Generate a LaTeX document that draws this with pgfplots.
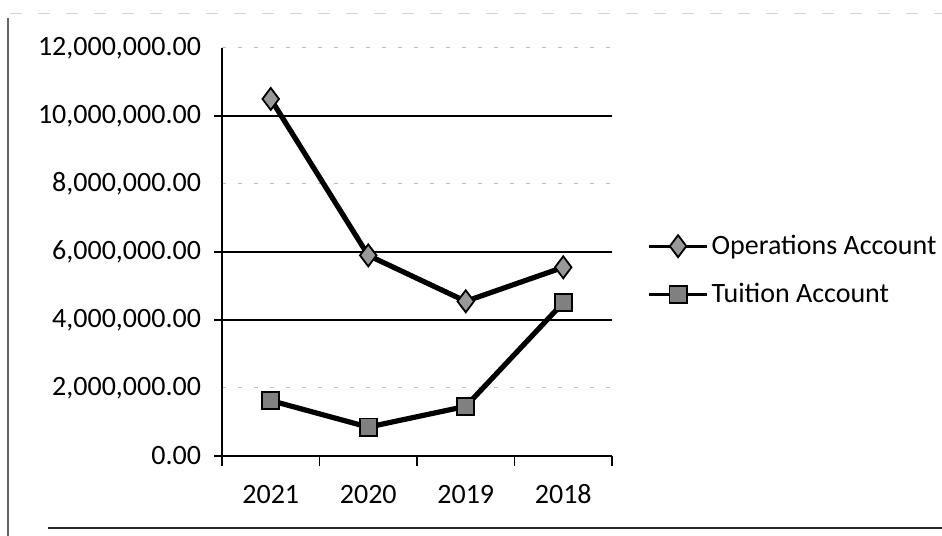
\documentclass[border=0pt]{standalone}
\usepackage{pgfplots}
\pgfplotsset{compat=1.18}
\usepackage{fontspec}
\setmainfont{Carlito}
\usetikzlibrary{plotmarks}

\newcommand{\chartfont}{\fontsize{14bp}{16bp}\selectfont}

\begin{document}
\begin{tikzpicture}
\useasboundingbox (0,0) rectangle (471bp,268bp);
% scanned page frame
\draw[black!60, line width=0.6bp] (4bp,0) -- (4bp,259bp);
\draw[black!18, line width=0.5bp, dash pattern=on 6bp off 8bp] (5bp,261bp) -- (471bp,261bp);
\draw[black!85, line width=0.9bp] (24bp,4bp) -- (471bp,4bp);

\begin{axis}[
  at={(111bp,40bp)}, anchor=south west,
  scale only axis, width=195bp, height=204bp,
  xmin=-0.5, xmax=3.5, ymin=0, ymax=12000000,
  axis x line=bottom, axis y line=left,
  axis line style={-, black, line width=1bp},
  xtick={0,1,2,3}, xticklabels={2021,2020,2019,2018},
  ytick={0,2000000,4000000,6000000,8000000,10000000,12000000},
  scaled y ticks=false,
  major tick length=0pt,
  ymajorgrids, major grid style={black!25, line width=0.5bp, dash pattern=on 2bp off 6bp},
  extra x ticks={-0.5,0.5,1.5,2.5,3.5}, extra x tick labels={},
  extra x tick style={major tick length=5bp, tick align=outside, tick style={black, line width=0.8bp}},
  extra y ticks={0,4000000,6000000,10000000}, extra y tick labels={},
  extra y tick style={major tick length=4bp, tick align=outside, ymajorgrids,
    major grid style={solid, black, line width=1bp}, tick style={solid, black, line width=1bp}},
  tick label style={font=\chartfont},
  yticklabel style={xshift=-7bp},
  xticklabel style={anchor=north, text height=10bp, text depth=0pt, yshift=-10bp},
  /pgf/number format/.cd, fixed, fixed zerofill, precision=2, 1000 sep={,}, assume math mode=true,
  /pgfplots/.cd,
  legend style={at={(1.09,0.455)}, anchor=west, draw=none, fill=none,
    font=\chartfont, row sep=10bp, inner sep=0pt, nodes={inner sep=1.5bp}},
  legend cell align=left,
  legend image code/.code={
    \draw[mark repeat=2, mark phase=2, #1, line width=1.6bp]
      plot coordinates {(0bp,0bp) (14.5bp,0bp) (29bp,0bp)};
  },
]
\addplot[black, line width=2.6bp, mark=diamond*, mark size=5.5bp,
  mark options={fill=black!40, draw=black, line width=0.9bp}]
  coordinates {(0,10500000) (1,5900000) (2,4550000) (3,5550000)};
\addlegendentry{Operations Account}
\addplot[black, line width=2.6bp, mark=square*, mark size=4.3bp,
  mark options={fill=black!50, draw=black, line width=0.9bp}]
  coordinates {(0,1630000) (1,850000) (2,1460000) (3,4510000)};
\addlegendentry{Tuition Account}
\end{axis}
\end{tikzpicture}
\end{document}
